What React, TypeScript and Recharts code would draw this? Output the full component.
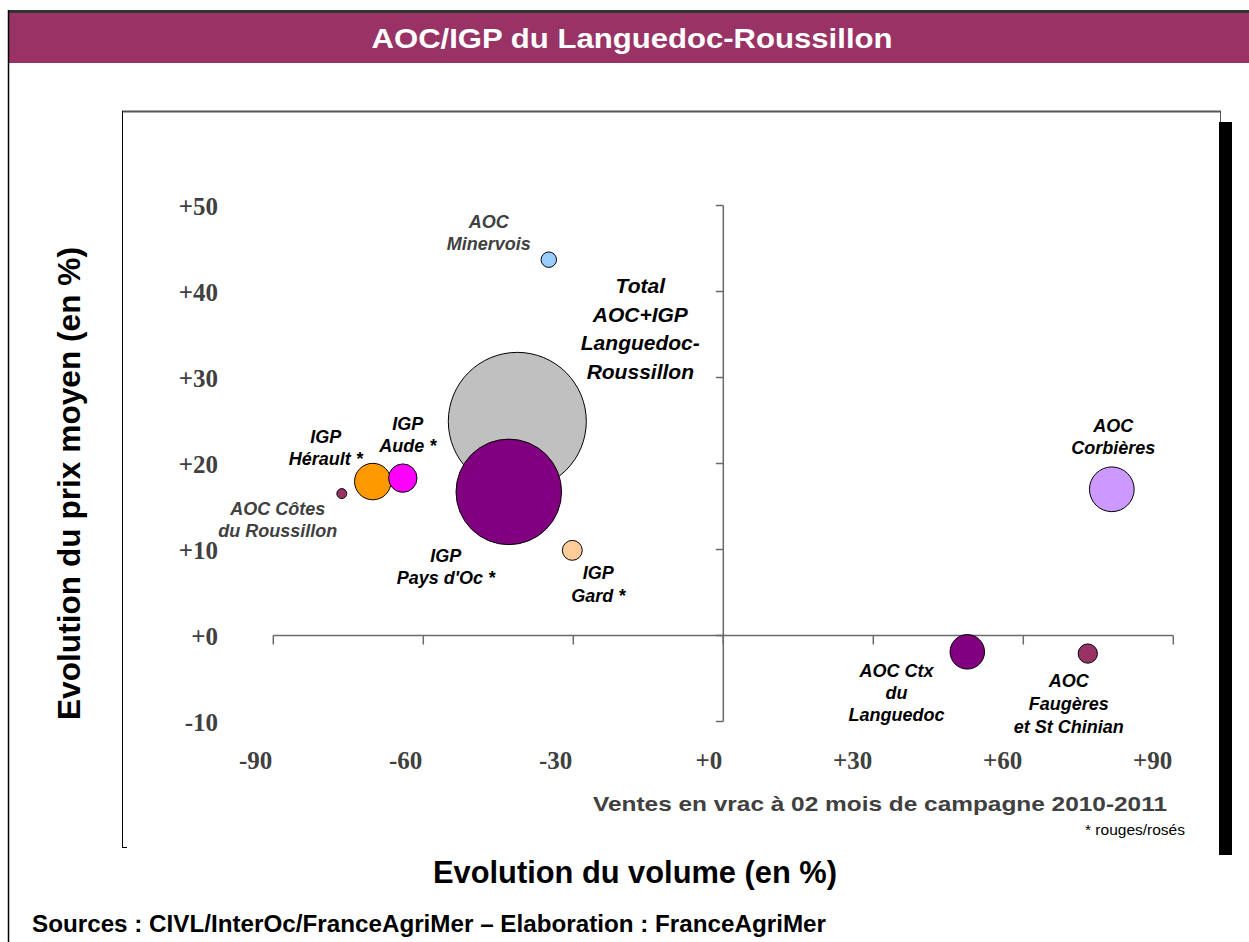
import React from 'react';
import { ScatterChart, Scatter, XAxis, YAxis, ZAxis, ReferenceLine } from 'recharts';

// ---- data ----
const names = [
  'Total AOC+IGP Languedoc-Roussillon',
  'AOC Minervois',
  'IGP Hérault *',
  'IGP Aude *',
  'AOC Côtes du Roussillon',
  "IGP Pays d'Oc *",
  'IGP Gard *',
  'AOC Corbières',
  'AOC Ctx du Languedoc',
  'AOC Faugères et St Chinian',
];
const volumeChange = [-41.2, -34.9, -70.1, -64.1, -76.3, -42.9, -30.2, 77.7, 48.8, 72.9];
const priceChange = [24.9, 43.7, 17.9, 18.3, 16.5, 16.7, 9.9, 17.0, -1.9, -2.1];
const bubbleWeight = [100, 1.25, 7.0, 4.24, 0.52, 58.5, 2.08, 10.5, 6.25, 1.95];
const bubbleColors = ['#C0C0C0', '#99CCFF', '#FF9900', '#FF00FF', '#993366', '#800080', '#FFCC99', '#CC99FF', '#800080', '#993366'];
const labelLines = [
  ['Total', 'AOC+IGP', 'Languedoc-', 'Roussillon'],
  ['AOC', 'Minervois'],
  ['IGP', 'Hérault *'],
  ['IGP', 'Aude *'],
  ['AOC Côtes', 'du Roussillon'],
  ['IGP', "Pays d'Oc *"],
  ['IGP', 'Gard *'],
  ['AOC', 'Corbières'],
  ['AOC Ctx', 'du', 'Languedoc'],
  ['AOC', 'Faugères', 'et St Chinian'],
];
const xTicks = [-90, -60, -30, 0, 30, 60, 90];
const yTicks = [-10, 0, 10, 20, 30, 40, 50];

const titleText = 'AOC/IGP du Languedoc-Roussillon';
const yTitle = 'Evolution du prix moyen (en %)';
const xTitle = 'Evolution du volume (en %)';
const subText = 'Ventes en vrac à 02 mois de campagne 2010-2011';
const noteText = '* rouges/rosés';
const sourceText = 'Sources : CIVL/InterOc/FranceAgriMer – Elaboration : FranceAgriMer';

// ---- label layout (pixel offsets from bubble centre) ----
const labelLayout = [
  { dx: 123, dy: -128, lh: 28.5, fs: 21, color: '#000' },
  { dx: -60, dy: -32, lh: 22, fs: 18, color: '#404040' },
  { dx: -47, dy: -38.7, lh: 22, fs: 18, color: '#000' },
  { dx: 5, dy: -48.3, lh: 21.7, fs: 18, color: '#000' },
  { dx: -64, dy: 21, lh: 22.7, fs: 18, color: '#404040' },
  { dx: -63, dy: 70.6, lh: 22, fs: 18, color: '#000' },
  { dx: 26, dy: 28.3, lh: 23.4, fs: 18, color: '#000' },
  { dx: 1.5, dy: -57.6, lh: 22.6, fs: 18, color: '#000' },
  { dx: -70.7, dy: 25.3, lh: 22, fs: 18, color: '#000' },
  { dx: -19, dy: 33.7, lh: 22.8, fs: 18, color: '#000' },
];

const data = names.map((n, i) => ({
  name: n,
  x: volumeChange[i],
  y: priceChange[i],
  z: bubbleWeight[i],
  idx: i,
}));

const SANS = "'Liberation Sans', Arial, sans-serif";
const SERIF = "'Liberation Serif', 'Times New Roman', serif";
const AXIS_COLOR = '#6a6a6a';
const MAX_R = 69;

const fmt = (v: number) => (v >= 0 ? `+${v}` : `${v}`);

const XTick = (props: any) => {
  const { x, payload } = props;
  return (
    <text x={x - 1} y={769} textAnchor="end" fontFamily={SERIF} fontWeight="bold" fontSize={25} fill="#404040">
      {fmt(payload.value)}
    </text>
  );
};

const YTick = (props: any) => {
  const { y, payload } = props;
  return (
    <text x={218} y={y + 9} textAnchor="end" fontFamily={SERIF} fontWeight="bold" fontSize={25} fill="#404040">
      {fmt(payload.value)}
    </text>
  );
};

const Bubble = (props: any) => {
  const { cx, cy, payload } = props;
  const size = props.size ?? 0;
  const r = props.width ? props.width / 2 : Math.sqrt(size / Math.PI);
  const i = payload.idx;
  const lay = labelLayout[i];
  const lines = labelLines[i];
  return (
    <g>
      <circle cx={cx} cy={cy} r={r} fill={bubbleColors[i]} stroke="#000" strokeWidth={1} />
      {lines.map((t, k) => (
        <text
          key={k}
          x={cx + lay.dx}
          y={cy + lay.dy + k * lay.lh}
          textAnchor="middle"
          fontFamily={SANS}
          fontWeight="bold"
          fontStyle="italic"
          fontSize={lay.fs}
          fill={lay.color}
        >
          {t}
        </text>
      ))}
    </g>
  );
};

export default function App() {
  const W = 1249;
  const H = 942;
  return (
    <div style={{ position: 'absolute', left: 0, top: 0, width: W, height: H, background: '#fff' }}>
      <svg width={W} height={H} style={{ position: 'absolute', left: 0, top: 0 }}>
        {/* outer frame */}
        <rect x={8} y={13} width={W - 8} height={50} fill="#993366" />
        <line x1={8} y1={11.5} x2={W} y2={11.5} stroke="#333" strokeWidth={3} />
        <line x1={8.5} y1={10} x2={8.5} y2={H} stroke="#000" strokeWidth={1.5} />
        <text x={632} y={48} textAnchor="middle" fontFamily={SANS} fontWeight="bold" fontSize={28} fill="#fff" textLength={521} lengthAdjust="spacingAndGlyphs">
          {titleText}
        </text>
        {/* inner box */}
        <line x1={122} y1={111.5} x2={1221} y2={111.5} stroke="#555" strokeWidth={2} />
        <line x1={122.5} y1={111} x2={122.5} y2={848} stroke="#000" strokeWidth={1} />
        <line x1={122} y1={847.5} x2={127} y2={847.5} stroke="#000" strokeWidth={1} />
        <line x1={1220.5} y1={111} x2={1220.5} y2={855} stroke="#555" strokeWidth={1} />
        <rect x={1219} y={122} width={13} height={733} fill="#000" />
        {/* texts */}
        <text transform="translate(80,483.5) rotate(-90)" textAnchor="middle" fontFamily={SANS} fontWeight="bold" fontSize={31} fill="#000" textLength={473} lengthAdjust="spacingAndGlyphs">
          {yTitle}
        </text>
        <text x={635} y={883} textAnchor="middle" fontFamily={SANS} fontWeight="bold" fontSize={31} fill="#000" textLength={404} lengthAdjust="spacingAndGlyphs">
          {xTitle}
        </text>
        <text x={593} y={811} fontFamily={SANS} fontWeight="bold" fontSize={21} fill="#404040" textLength={574} lengthAdjust="spacingAndGlyphs">
          {subText}
        </text>
        <text x={1085} y={835} fontFamily={SANS} fontSize={14} fill="#000" textLength={100} lengthAdjust="spacingAndGlyphs">
          {noteText}
        </text>
        <text x={32} y={932} fontFamily={SANS} fontWeight="bold" fontSize={23} fill="#000" textLength={794} lengthAdjust="spacingAndGlyphs">
          {sourceText}
        </text>
      </svg>
      <div style={{ position: 'absolute', left: 0, top: 0 }}>
        <ScatterChart
          width={W}
          height={H}
          margin={{ top: 205.5, left: 213.3, right: 75.7, bottom: 170.5 }}
        >
          <XAxis
            dataKey="x"
            type="number"
            domain={[-90, 90]}
            ticks={xTicks}
            interval={0}
            axisLine={false}
            tickLine={false}
            height={50}
            tick={<XTick />}
          />
          <YAxis
            dataKey="y"
            type="number"
            domain={[-10, 50]}
            ticks={yTicks}
            interval={0}
            axisLine={false}
            tickLine={false}
            width={60}
            tick={<YTick />}
          />
          <ZAxis dataKey="z" type="number" domain={[0, 100]} range={[0, Math.PI * MAX_R * MAX_R]} />
          <ReferenceLine x={0} stroke={AXIS_COLOR} strokeWidth={1.5} ifOverflow="visible" />
          <ReferenceLine y={0} stroke={AXIS_COLOR} strokeWidth={1.5} ifOverflow="visible" />
          {xTicks.map((v) => (
            <ReferenceLine
              key={`xt${v}`}
              segment={[{ x: v, y: 0 }, { x: v, y: -1.05 }]}
              stroke={AXIS_COLOR}
              strokeWidth={1.5}
              ifOverflow="visible"
            />
          ))}
          {yTicks.map((v) => (
            <ReferenceLine
              key={`yt${v}`}
              segment={[{ x: -1.5, y: v }, { x: 0, y: v }]}
              stroke={AXIS_COLOR}
              strokeWidth={1.5}
              ifOverflow="visible"
            />
          ))}
          <Scatter data={data} shape={<Bubble />} isAnimationActive={false} />
        </ScatterChart>
      </div>
    </div>
  );
}
